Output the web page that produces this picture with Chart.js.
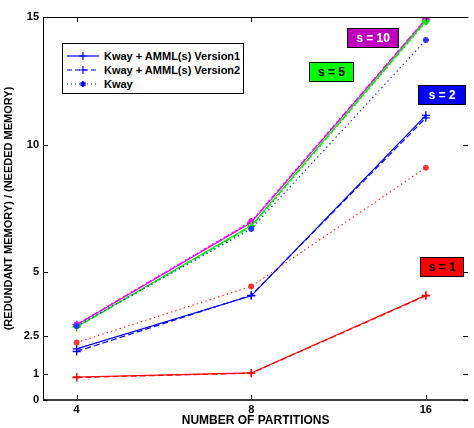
<!DOCTYPE html>
<html>
<head>
<meta charset="utf-8">
<script src="https://cdn.jsdelivr.net/npm/chart.js@4"></script>
<style>
  body { margin: 0; background: #fff; }
  #wrap { position: relative; width: 474px; height: 428px; font-family: "Liberation Sans", Arial, sans-serif; }
  .legend { position: absolute; left: 62px; top: 43px; width: 180px; height: 49px; border: 1px solid #000; background: #fff; }
  .legend div { position: absolute; left: 4px; height: 14px; font-size: 11px; font-weight: bold; line-height: 14px; white-space: nowrap; }
  .legend svg { vertical-align: top; margin-right: 5px; }
  .tag { position: absolute; border: 1px solid #000; font-size: 12px; font-weight: bold; text-align: center; line-height: 18px; height: 18px; }
</style>
</head>
<body>
<div id="wrap">
  <canvas id="c" width="474" height="428"></canvas>
  <div class="legend">
    <div style="top:5px"><svg width="32" height="14"><line x1="0" y1="7" x2="32" y2="7" stroke="#00f" stroke-width="1.2"/><path d="M16 3V11M12 7H20" stroke="#00f" stroke-width="1.2"/></svg>Kway + AMML(s) Version1</div>
    <div style="top:19px"><svg width="32" height="14"><line x1="0" y1="7" x2="32" y2="7" stroke="#00f" stroke-width="1.2" stroke-dasharray="5 3"/><path d="M16 3V11M12 7H20" stroke="#00f" stroke-width="1.2"/></svg>Kway + AMML(s) Version2</div>
    <div style="top:33px"><svg width="32" height="14"><line x1="0" y1="7" x2="32" y2="7" stroke="#00f" stroke-width="1.2" stroke-dasharray="1 3"/><path d="M16 4V10M13.4 5.5L18.6 8.5M13.4 8.5L18.6 5.5" stroke="#00f" stroke-width="1.6"/></svg>Kway</div>
  </div>
  <div class="tag" style="left:347px;top:28px;width:50px;background:#bf00bf;color:#fff">s = 10</div>
  <div class="tag" style="left:309px;top:62px;width:43px;background:#00ff00;color:#000">s = 5</div>
  <div class="tag" style="left:418px;top:85px;width:46px;background:#0000ff;color:#fff">s = 2</div>
  <div class="tag" style="left:420px;top:257px;width:42px;background:#ff0000;color:#000">s = 1</div>
</div>
<script>
// number of partitions (x) and tick values
const partitions = [4, 8, 16];
const yTickValues = [0, 1, 2.5, 5, 10, 15];

// ratio values, per s
const s1Version1 = [0.90, 1.06, 4.10];
const s1Version2 = [0.88, 1.05, 4.08];
const s1Kway = [2.25, 4.45, 9.10];

const s2Version1 = [2.00, 4.08, 11.15];
const s2Version2 = [1.90, 4.10, 11.05];
const s2Kway = [2.90, 6.70, 14.10];

const s5Version1 = [2.87, 6.83, 14.85];
const s5Version2 = [2.85, 6.80, 14.83];
const s5Kway = [2.90, 6.75, 14.80];

const s10Version1 = [2.94, 6.95, 14.90];
const s10Version2 = [2.95, 6.97, 14.92];
const s10Kway = [2.96, 7.00, 14.93];

function pts(vals) {
    return vals.map((v, i) => ({ x: partitions[i], y: v }));
}

function series(label, vals, color, kind) {
    const ds = {
        label: label,
        data: pts(vals),
        borderColor: color,
        backgroundColor: color,
        borderWidth: 1.2,
        pointBorderWidth: 1.3,
        pointBorderColor: color,
        tension: 0
    };
    if (kind === 'v1') {
        ds.pointStyle = 'cross'; ds.pointRadius = 4;
    } else if (kind === 'v2') {
        ds.pointStyle = 'cross'; ds.pointRadius = 4; ds.borderDash = [6, 3];
    } else {
        ds.pointStyle = 'star'; ds.pointRadius = 3; ds.borderDash = [1.5, 3]; ds.pointBorderWidth = 1.8;
    }
    return ds;
}

// draw the axes box and inward ticks like the original
const boxPlugin = {
    id: 'box',
    afterDraw(chart) {
        const ctx = chart.ctx;
        const a = chart.chartArea;
        const xs = chart.scales.x, ys = chart.scales.y;
        ctx.save();
        ctx.strokeStyle = '#000';
        ctx.lineWidth = 1;
        ctx.beginPath();
        ctx.moveTo(a.right, a.top + 0.5);
        ctx.lineTo(a.left + 0.5, a.top + 0.5);
        ctx.lineTo(a.left + 0.5, a.bottom);
        ctx.stroke();
        ctx.lineWidth = 1.6;
        ctx.beginPath();
        ctx.moveTo(a.left, a.bottom);
        ctx.lineTo(a.right, a.bottom);
        ctx.stroke();
        ctx.lineWidth = 1;
        ctx.beginPath();
        yTickValues.forEach(v => {
            const y = Math.round(ys.getPixelForValue(v)) + 0.5;
            ctx.moveTo(a.left, y); ctx.lineTo(a.left + 5, y);
            ctx.moveTo(a.right - 5, y); ctx.lineTo(a.right, y);
        });
        partitions.forEach(v => {
            const x = Math.round(xs.getPixelForValue(v)) + 0.5;
            ctx.moveTo(x, a.bottom); ctx.lineTo(x, a.bottom - 5);
            ctx.moveTo(x, a.top); ctx.lineTo(x, a.top + 5);
        });
        ctx.stroke();
        ctx.restore();
    }
};

const font = { family: '"Liberation Sans", Arial, sans-serif', weight: 'bold', size: 11 };

new Chart(document.getElementById('c'), {
    type: 'line',
    data: {
        datasets: [
            series('s=1 Version1', s1Version1, '#ff0000', 'v1'),
            series('s=1 Version2', s1Version2, '#ff0000', 'v2'),
            series('s=1 Kway', s1Kway, '#ff3030', 'kway'),
            series('s=2 Version1', s2Version1, '#0000ff', 'v1'),
            series('s=2 Version2', s2Version2, '#0000ff', 'v2'),
            series('s=2 Kway', s2Kway, '#3030ff', 'kway'),
            series('s=5 Version1', s5Version1, '#00f000', 'v1'),
            series('s=5 Version2', s5Version2, '#00f000', 'v2'),
            series('s=5 Kway', s5Kway, '#00f000', 'kway'),
            series('s=10 Version1', s10Version1, '#ff00ff', 'v1'),
            series('s=10 Version2', s10Version2, '#ff00ff', 'v2'),
            series('s=10 Kway', s10Kway, '#ff00ff', 'kway')
        ]
    },
    options: {
        responsive: false,
        animation: false,
        layout: { padding: { top: 17, right: 0, left: 0, bottom: 0 } },
        plugins: { legend: { display: false }, tooltip: { enabled: false } },
        scales: {
            x: {
                type: 'logarithmic',
                min: 3.5,
                max: 18.93,
                afterBuildTicks: s => { s.ticks = partitions.map(v => ({ value: v })); },
                afterFit: s => { s.height = 28; },
                grid: { display: false, drawTicks: false },
                border: { display: false },
                ticks: { color: '#000', font: font, padding: 3, maxRotation: 0, autoSkip: false, callback: v => String(v) },
                title: { display: true, text: 'NUMBER OF PARTITIONS', color: '#000', font: { family: font.family, weight: 'bold', size: 12 }, padding: 0 }
            },
            y: {
                min: 0,
                max: 15,
                afterBuildTicks: s => { s.ticks = yTickValues.map(v => ({ value: v })); },
                afterFit: s => { s.width = 43; },
                grid: { display: false, drawTicks: false },
                border: { display: false },
                ticks: { color: '#000', font: font, padding: 4, autoSkip: false, callback: v => String(v) },
                title: { display: true, text: '(REDUNDANT MEMORY) / (NEEDED MEMORY)', color: '#000', font: { family: font.family, weight: 'bold', size: 11 }, padding: 2 }
            }
        }
    },
    plugins: [boxPlugin]
});
</script>
</body>
</html>
